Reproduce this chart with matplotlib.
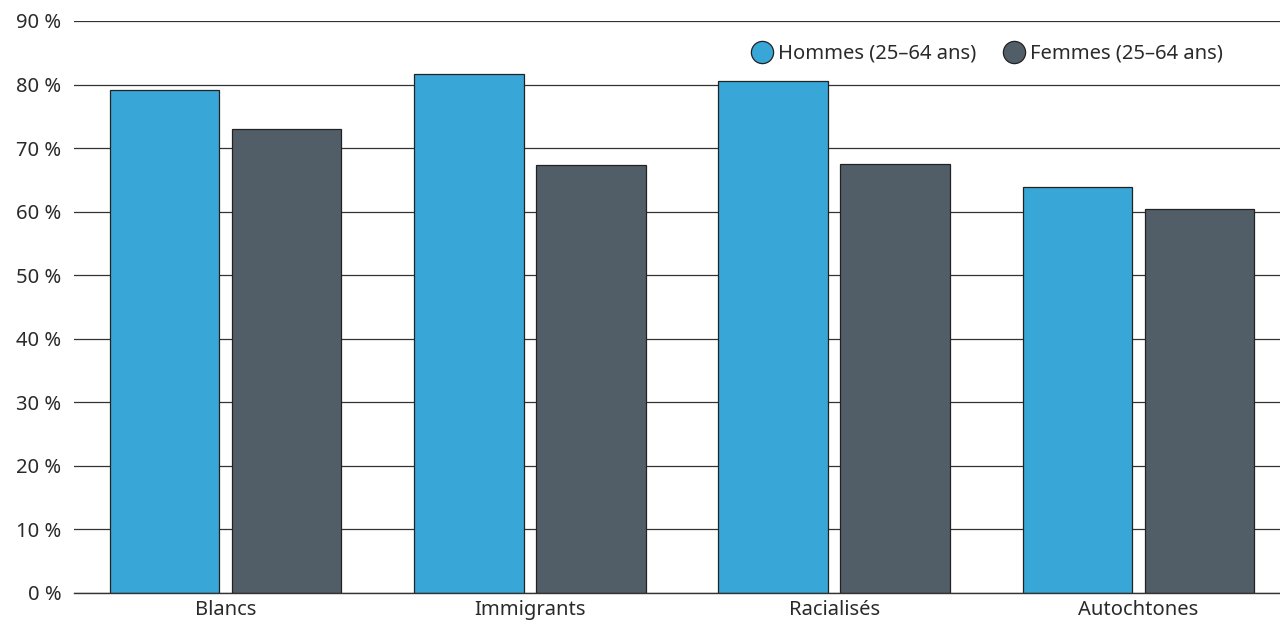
import numpy as np
from matplotlib import pyplot as plt
from matplotlib.lines import Line2D

categories = ["Blancs", "Immigrants", "Racialisés", "Autochtones"]
hommes = [79.1, 81.7, 80.6, 63.9]
femmes = [73.0, 67.3, 67.5, 60.4]
yticks = [0, 10, 20, 30, 40, 50, 60, 70, 80, 90]
ytick_labels = [f"{v} %" for v in yticks]

blue = "#38a6d6"
grey = "#515e67"

plt.rcParams['font.family'] = ['Noto Sans', 'DejaVu Sans']

fig = plt.figure(figsize=(12.8, 6.25), dpi=100)
ax = fig.add_axes([74 / 1280, 32 / 625, 1206 / 1280, 572 / 625])

x = np.arange(len(categories))
w = 0.361
off = 0.2005
ax.bar(x - off, hommes, w, color=blue, edgecolor="#222222", linewidth=0.9, zorder=3)
ax.bar(x + off, femmes, w, color=grey, edgecolor="#222222", linewidth=0.9, zorder=3)

ax.set_ylim(0, 90)
ax.set_xlim(-0.498, 3.465)
ax.set_yticks(yticks)
ax.set_yticklabels(ytick_labels)
ax.set_xticks(x)
ax.set_xticklabels(categories)
ax.yaxis.grid(True, color="#333333", linewidth=0.9, zorder=0)
ax.axhline(0, color="#333333", linewidth=1.0, zorder=4, clip_on=False)
ax.set_axisbelow(True)
for s in ax.spines.values():
    s.set_visible(False)
ax.tick_params(axis="both", length=0, labelsize=14.5, colors="#2a2a2a")
ax.tick_params(axis="y", pad=9)
ax.tick_params(axis="x", pad=5)

handles = [
    Line2D([], [], marker="o", linestyle="", markersize=16, markerfacecolor=blue,
           markeredgecolor="#222222", markeredgewidth=0.9, label="Hommes (25–64 ans)"),
    Line2D([], [], marker="o", linestyle="", markersize=16, markerfacecolor=grey,
           markeredgecolor="#222222", markeredgewidth=0.9, label="Femmes (25–64 ans)"),
]
ax.legend(handles=handles, loc="upper right", bbox_to_anchor=(0.968, 0.992), ncol=2,
          frameon=False, fontsize=14.5, handletextpad=0.2, columnspacing=1.3,
          handlelength=1.2, labelcolor="#2a2a2a")

fig.savefig("out.png")
